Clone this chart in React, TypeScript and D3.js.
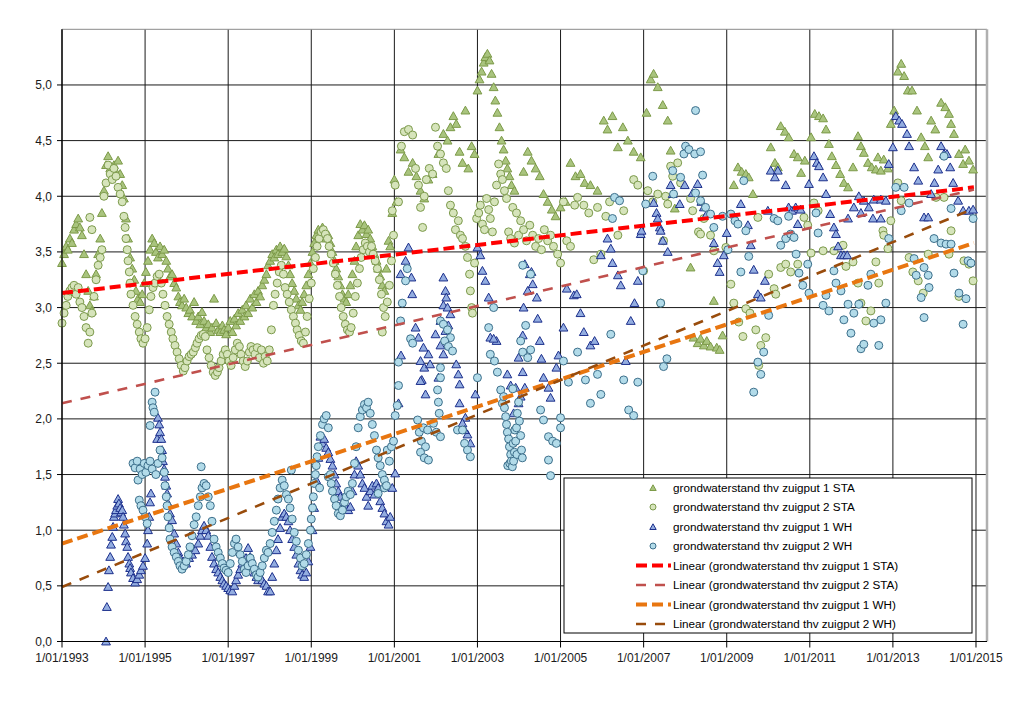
import React from "react";
import * as d3 from "d3";

// ---------- DATA (decimal year, level) ----------
const sta1: [number, number][] = [
  [1993.00,3.40],[1993.05,3.48],[1993.10,3.55],[1993.14,3.52],[1993.19,3.62],[1993.24,3.58],[1993.29,3.70],[1993.34,3.75],[1993.39,3.80],[1993.43,3.72],
  [1993.48,3.65],[1993.53,3.48],[1993.58,3.30],[1993.63,3.15],[1993.67,3.02],[1993.72,2.97],[1993.77,3.10],[1993.82,3.30],[1993.87,3.48],[1993.92,3.62],
  [1993.96,3.85],[1994.01,4.05],[1994.06,4.28],[1994.11,4.36],[1994.16,4.25],[1994.21,4.18],[1994.25,4.28],[1994.30,4.22],[1994.35,4.32],[1994.40,4.20],
  [1994.45,4.10],[1994.49,3.98],[1994.54,3.80],[1994.59,3.62],[1994.64,3.45],[1994.69,3.35],[1994.74,3.25],[1994.78,3.15],[1994.83,3.08],[1994.88,3.05],
  [1994.93,3.12],[1994.98,3.22],[1995.02,3.32],[1995.07,3.42],[1995.12,3.52],[1995.17,3.62],[1995.22,3.58],[1995.26,3.50],[1995.31,3.45],[1995.36,3.55],
  [1995.41,3.48],[1995.46,3.52],[1995.51,3.42],[1995.55,3.35],[1995.60,3.28],[1995.65,3.30],[1995.70,3.22],[1995.75,3.18],[1995.80,3.10],[1995.84,3.05],
  [1995.89,3.02],[1995.94,3.08],[1995.99,3.00],[1996.04,2.95],[1996.08,2.98],[1996.13,2.92],[1996.18,3.05],[1996.23,2.88],[1996.28,2.92],[1996.33,2.85],
  [1996.37,2.96],[1996.42,2.88],[1996.47,2.82],[1996.52,2.85],[1996.57,2.78],[1996.61,2.82],[1996.66,3.08],[1996.71,2.86],[1996.76,2.80],[1996.81,2.78],
  [1996.86,2.84],[1996.90,2.80],[1996.95,2.76],[1997.00,2.82],[1997.05,2.88],[1997.10,2.78],[1997.15,2.90],[1997.19,2.84],[1997.24,2.95],[1997.29,2.88],
  [1997.34,2.98],[1997.39,2.92],[1997.43,3.02],[1997.48,2.95],[1997.53,3.08],[1997.58,3.00],[1997.63,3.12],[1997.68,3.05],[1997.72,3.15],[1997.77,3.10],
  [1997.82,3.20],[1997.87,3.25],[1997.92,3.30],[1997.96,3.38],[1998.01,3.42],[1998.06,3.48],[1998.11,3.45],[1998.16,3.52],[1998.20,3.48],[1998.25,3.55],
  [1998.30,3.50],[1998.35,3.53],[1998.40,3.46],[1998.45,3.38],[1998.49,3.30],[1998.54,3.22],[1998.59,3.15],[1998.64,3.08],[1998.69,3.02],[1998.74,2.98],
  [1998.78,3.05],[1998.83,3.12],[1998.88,3.20],[1998.93,3.30],[1998.98,3.40],[1999.03,3.50],[1999.07,3.58],[1999.12,3.65],[1999.17,3.70],[1999.22,3.66],
  [1999.27,3.72],[1999.31,3.68],[1999.36,3.62],[1999.41,3.65],[1999.46,3.58],[1999.51,3.50],[1999.56,3.42],[1999.60,3.35],[1999.65,3.28],[1999.70,3.20],
  [1999.75,3.12],[1999.80,3.08],[1999.84,3.05],[1999.89,3.12],[1999.94,3.20],[1999.99,3.30],[2000.04,3.42],[2000.08,3.55],[2000.13,3.65],[2000.18,3.75],
  [2000.23,3.70],[2000.28,3.74],[2000.33,3.66],[2000.37,3.70],[2000.42,3.62],[2000.47,3.55],[2000.52,3.48],[2000.57,3.42],[2000.61,3.35],[2000.66,3.28],
  [2000.71,3.20],[2000.76,3.15],[2000.81,3.35],[2000.86,3.60],[2000.90,3.55],[2000.95,3.85],
  [2001.00,4.15],[2001.05,3.95],[2001.15,4.42],[2001.24,4.35],[2001.34,4.22],[2001.44,4.30],[2001.53,4.18],[2001.63,4.05],[2001.72,3.98],[2001.82,4.15],
  [2001.92,4.20],[2002.06,4.38],[2002.18,4.56],[2002.28,4.50],[2002.35,4.62],[2002.42,4.72],[2002.49,4.65],[2002.57,4.40],[2002.64,4.30],[2002.71,4.77],
  [2002.78,4.25],[2002.86,4.45],[2002.93,4.38],[2003.00,4.95],[2003.05,5.05],[2003.10,5.12],[2003.15,5.20],[2003.19,5.25],[2003.24,5.28],[2003.29,5.22],
  [2003.34,5.10],[2003.39,4.98],[2003.43,4.86],[2003.48,4.75],[2003.53,4.62],[2003.58,4.50],[2003.63,4.42],[2003.68,4.32],[2003.72,4.25],[2003.77,4.18],
  [2003.82,4.10],[2003.89,4.05],[2004.11,4.22],[2004.21,4.40],[2004.30,4.32],[2004.40,4.25],[2004.50,4.18],[2004.59,4.02],[2004.69,3.95],[2004.79,3.88],
  [2004.88,3.82],[2005.00,3.90],[2005.12,3.95],[2005.24,4.30],[2005.36,4.18],[2005.48,4.20],[2005.58,4.12],[2005.72,4.10],[2005.89,4.05],[2006.04,4.68],
  [2006.13,4.60],[2006.25,4.72],[2006.38,4.44],[2006.50,4.62],[2006.62,4.50],[2006.76,4.40],[2006.93,4.35],[2007.07,4.75],[2007.17,5.05],[2007.24,5.10],
  [2007.34,4.98],[2007.46,4.82],[2007.58,4.68],[2007.65,4.41],[2007.75,3.89],[2008.13,3.36],[2008.20,2.73],[2008.30,2.68],[2008.37,2.72],[2008.45,2.66],
  [2008.52,2.70],[2008.61,2.65],[2008.69,3.06],[2008.76,2.64],[2008.83,2.62],[2008.90,2.75],[2009.17,4.10],[2009.27,4.26],[2009.36,4.22],[2009.46,4.20],
  [2009.53,4.17],[2009.63,4.02],[2010.06,4.44],[2010.16,4.30],[2010.23,4.26],[2010.30,4.63],[2010.40,4.58],[2010.49,4.53],[2010.62,4.38],[2010.71,4.35],
  [2010.79,4.21],[2010.88,4.32],[2011.03,4.53],[2011.12,4.74],[2011.22,4.72],[2011.32,4.70],[2011.39,4.60],[2011.46,4.47],[2011.53,4.36],[2011.63,4.28],
  [2011.73,4.20],[2011.82,4.12],[2011.92,4.08],[2012.04,4.26],[2012.16,4.54],[2012.23,4.45],[2012.30,4.39],[2012.40,4.30],[2012.49,4.26],[2012.59,4.24],
  [2012.64,4.35],[2012.71,4.23],[2012.78,4.33],[2012.88,4.25],[2012.95,4.65],[2013.03,4.77],[2013.12,5.12],[2013.20,5.19],[2013.27,5.08],[2013.36,4.95],
  [2013.46,4.95],[2013.58,4.77],[2013.68,4.53],[2013.77,4.45],[2013.85,4.35],[2013.92,4.68],[2014.02,4.60],[2014.16,4.84],[2014.26,4.80],[2014.35,4.74],
  [2014.40,4.65],[2014.47,4.56],[2014.59,4.38],[2014.69,4.29],[2014.74,4.42],[2014.83,4.32],[2014.93,4.24]
];

const sta2: [number, number][] = [
  [1993.00,2.86],[1993.05,2.95],[1993.10,3.02],[1993.14,3.10],[1993.19,3.15],[1993.24,3.18],[1993.29,3.20],[1993.34,3.12],[1993.39,3.18],[1993.43,3.05],
  [1993.48,3.00],[1993.53,2.92],[1993.58,2.82],[1993.63,2.68],[1993.67,2.78],[1993.67,3.81],[1993.72,3.70],[1993.72,2.95],[1993.77,3.10],[1993.82,3.25],
  [1993.87,3.38],[1993.92,3.45],[1993.96,3.52],[1994.01,4.00],[1994.06,4.12],[1994.11,4.28],[1994.16,4.20],[1994.21,4.15],[1994.25,4.25],[1994.30,4.18],
  [1994.35,4.08],[1994.40,4.02],[1994.45,3.95],[1994.49,3.82],[1994.52,3.72],[1994.54,3.62],[1994.57,3.52],[1994.59,3.42],[1994.62,3.32],[1994.64,3.22],
  [1994.66,3.12],[1994.71,3.02],[1994.76,2.92],[1994.81,2.85],[1994.86,2.78],[1994.90,2.72],[1994.95,2.68],[1995.00,2.72],[1995.05,2.82],[1995.10,2.98],
  [1995.14,3.10],[1995.19,3.18],[1995.24,3.22],[1995.29,3.28],[1995.34,3.30],[1995.39,3.22],[1995.43,3.12],[1995.48,3.02],[1995.53,2.92],[1995.58,2.85],
  [1995.63,2.78],[1995.67,2.72],[1995.72,2.66],[1995.77,2.60],[1995.82,2.54],[1995.87,2.48],[1995.92,2.43],[1995.96,2.46],[1996.01,2.52],[1996.06,2.56],
  [1996.11,2.58],[1996.16,2.60],[1996.21,2.64],[1996.25,2.68],[1996.30,2.72],[1996.35,2.75],[1996.40,2.76],[1996.45,2.74],[1996.49,2.62],[1996.54,2.55],
  [1996.59,2.48],[1996.64,2.42],[1996.69,2.39],[1996.74,2.42],[1996.78,2.46],[1996.83,2.52],[1996.88,2.58],[1996.93,2.62],[1996.98,2.58],[1997.02,2.52],
  [1997.07,2.48],[1997.12,2.55],[1997.17,2.62],[1997.22,2.68],[1997.27,2.65],[1997.31,2.58],[1997.36,2.52],[1997.41,2.47],[1997.46,2.52],[1997.51,2.60],
  [1997.55,2.65],[1997.60,2.62],[1997.65,2.58],[1997.70,2.64],[1997.75,2.55],[1997.80,2.62],[1997.85,2.50],[1997.89,2.56],[1997.94,2.52],[1997.99,2.62],
  [1998.04,2.80],[1998.09,3.02],[1998.13,3.12],[1998.18,3.22],[1998.23,3.32],[1998.28,3.38],[1998.33,3.30],[1998.37,3.18],[1998.42,3.12],[1998.47,3.05],
  [1998.52,2.98],[1998.57,2.92],[1998.62,2.86],[1998.66,2.80],[1998.71,2.75],[1998.76,2.70],[1998.81,2.68],[1998.86,2.78],[1998.90,2.92],[1998.95,3.08],
  [1999.00,3.22],[1999.05,3.35],[1999.10,3.45],[1999.14,3.55],[1999.19,3.62],[1999.24,3.68],[1999.29,3.70],[1999.34,3.66],[1999.39,3.62],[1999.43,3.55],
  [1999.48,3.48],[1999.53,3.40],[1999.58,3.30],[1999.63,3.20],[1999.68,3.10],[1999.72,3.00],[1999.77,2.92],[1999.82,2.85],[1999.87,2.80],[1999.92,2.78],
  [1999.96,2.82],[2000.01,2.95],[2000.06,3.10],[2000.11,3.22],[2000.16,3.35],[2000.20,3.45],[2000.25,3.52],[2000.30,3.58],[2000.35,3.55],[2000.40,3.50],
  [2000.45,3.55],[2000.49,3.48],[2000.54,3.42],[2000.59,3.35],[2000.64,3.25],[2000.69,3.12],[2000.71,2.78],[2000.74,3.00],[2000.78,2.92],[2000.83,3.05],
  [2000.88,3.20],[2000.93,3.42],[2000.95,3.87],[2000.98,3.65],
  [2001.02,4.10],[2001.10,3.95],[2001.17,4.45],[2001.24,4.58],[2001.34,4.60],[2001.44,4.55],[2001.51,4.25],[2001.58,4.10],[2001.63,3.90],[2001.68,3.72],
  [2001.72,4.00],[2001.77,4.15],[2001.84,4.25],[2001.92,4.20],[2001.99,4.62],[2002.04,4.45],[2002.11,4.38],[2002.18,4.30],[2002.25,4.25],[2002.30,4.05],
  [2002.35,3.92],[2002.42,3.85],[2002.47,3.70],[2002.54,3.78],[2002.59,3.65],[2002.64,3.62],[2002.71,3.55],[2002.76,3.45],[2002.81,3.30],[2002.83,3.15],
  [2002.86,3.00],[2002.88,2.95],[2002.93,3.40],[2002.98,3.80],[2003.03,3.85],[2003.07,3.92],[2003.12,3.75],[2003.17,3.70],[2003.22,3.98],[2003.27,3.88],
  [2003.31,3.80],[2003.36,3.68],[2003.41,3.95],[2003.46,4.10],[2003.51,4.29],[2003.56,4.20],[2003.60,4.15],[2003.65,4.05],[2003.70,3.98],[2003.75,3.68],
  [2003.80,3.62],[2003.85,3.90],[2003.89,3.58],[2003.94,3.85],[2003.99,3.65],[2004.04,3.78],[2004.11,3.70],[2004.18,3.60],[2004.26,3.74],[2004.33,3.65],
  [2004.40,3.55],[2004.47,3.62],[2004.54,3.52],[2004.61,3.70],[2004.69,3.60],[2004.76,3.65],[2004.83,3.55],[2004.93,3.48],[2005.00,3.40],[2005.07,3.95],
  [2005.15,3.60],[2005.24,3.55],[2005.34,3.92],[2005.41,3.99],[2005.56,3.92],[2005.68,3.85],[2005.80,3.43],[2005.89,3.90],[2005.97,3.48],[2006.09,3.82],
  [2006.18,3.95],[2006.38,3.65],[2006.52,3.87],[2006.76,4.15],[2006.86,4.10],[2007.00,3.33],[2007.10,4.05],[2007.22,3.95],[2007.34,4.02],[2007.41,3.04],
  [2007.48,3.60],[2007.53,4.00],[2007.58,3.93],[2007.65,4.27],[2007.70,4.18],[2007.82,4.30],[2007.89,4.12],[2008.13,3.98],[2008.18,3.87],[2008.32,3.68],
  [2008.37,3.66],[2008.45,3.80],[2008.61,3.65],[2008.69,3.51],[2008.98,3.54],[2009.10,3.21],[2009.17,3.04],[2009.29,2.87],[2009.39,2.74],[2009.46,2.99],
  [2009.56,2.95],[2009.70,2.80],[2009.75,3.81],[2009.77,2.48],[2009.82,2.66],[2009.94,2.73],[2010.01,3.30],[2010.14,3.17],[2010.18,3.12],[2010.30,3.36],
  [2010.42,3.39],[2010.54,3.32],[2010.71,3.39],[2010.86,3.81],[2010.95,3.74],[2011.03,3.49],[2011.10,3.94],[2011.20,3.87],[2011.32,3.51],[2011.58,3.51],
  [2011.80,3.56],[2011.87,3.37],[2012.04,3.41],[2012.16,3.22],[2012.23,3.04],[2012.35,2.88],[2012.47,2.97],[2012.59,3.41],[2012.66,3.22],[2012.76,3.69],
  [2012.78,3.65],[2012.88,3.53],[2012.95,3.78],[2013.12,4.12],[2013.20,3.96],[2013.39,3.45],[2013.48,3.32],[2013.61,3.24],[2013.73,3.13],[2013.85,3.48],
  [2014.04,3.99],[2014.23,3.99],[2014.35,3.48],[2014.40,3.69],[2014.59,3.10],[2014.71,3.42],[2014.83,3.39],[2014.93,3.24]
];

const wh1: [number, number][] = [
  [1994.06,0.00],[1994.08,0.31],[1994.11,0.49],[1994.13,0.64],[1994.16,0.76],[1994.18,0.87],[1994.21,0.94],[1994.23,1.03],[1994.25,1.12],[1994.28,1.15],
  [1994.30,1.18],[1994.33,1.22],[1994.35,1.28],[1994.37,1.24],[1994.40,1.20],[1994.42,1.16],[1994.45,1.18],[1994.47,1.12],[1994.49,1.05],[1994.52,0.97],
  [1994.54,0.90],[1994.57,0.85],[1994.59,0.76],[1994.62,0.70],[1994.64,0.66],[1994.66,0.62],[1994.71,0.57],[1994.76,0.53],[1994.81,0.56],[1994.86,0.60],
  [1994.90,0.64],[1994.95,0.68],[1995.00,0.75],[1995.05,0.88],[1995.07,1.00],[1995.10,1.12],[1995.12,1.25],[1995.14,1.33],[1995.29,1.82],[1995.31,2.01],
  [1995.34,1.95],[1995.36,1.88],[1995.39,1.82],[1995.41,1.72],[1995.43,1.62],[1995.46,1.55],[1995.48,1.48],[1995.51,1.40],[1995.53,1.33],[1995.55,1.24],
  [1995.60,1.15],[1995.65,1.09],[1995.70,0.97],[1995.75,0.88],[1995.80,0.80],[1995.84,0.75],[1995.92,0.72],[1995.99,0.70],[1996.06,0.75],[1996.13,0.78],
  [1996.21,0.82],[1996.28,0.88],[1996.33,0.95],[1996.37,1.00],[1996.42,1.04],[1996.47,1.00],[1996.52,0.95],[1996.57,0.85],[1996.61,0.76],[1996.66,0.70],
  [1996.71,0.65],[1996.76,0.62],[1996.81,0.58],[1996.86,0.55],[1996.90,0.52],[1996.95,0.50],[1997.00,0.48],[1997.05,0.46],[1997.10,0.45],[1997.15,0.50],
  [1997.19,0.55],[1997.24,0.60],[1997.29,0.65],[1997.34,0.70],[1997.39,0.68],[1997.43,0.75],[1997.48,0.84],[1997.53,0.76],[1997.58,0.68],[1997.63,0.62],
  [1997.68,0.58],[1997.72,0.55],[1997.77,0.58],[1997.82,0.55],[1997.87,0.52],[1997.92,0.50],[1997.96,0.45],[1998.01,0.45],[1998.06,0.58],[1998.11,0.70],
  [1998.16,0.82],[1998.20,0.92],[1998.25,1.02],[1998.30,1.12],[1998.35,1.15],[1998.40,1.12],[1998.45,1.08],[1998.49,1.00],[1998.54,0.92],[1998.59,0.85],
  [1998.64,0.78],[1998.69,0.70],[1998.74,0.64],[1998.78,0.60],[1998.83,0.58],[1998.88,0.62],[1998.93,0.72],[1998.98,0.85],[1999.03,1.00],[1999.07,1.20],
  [1999.12,1.45],[1999.17,1.65],[1999.22,1.84],[1999.27,1.78],[1999.31,1.82],[1999.36,1.74],[1999.41,1.70],[1999.46,1.64],[1999.51,1.58],[1999.56,1.50],
  [1999.60,1.42],[1999.65,1.35],[1999.70,1.30],[1999.75,1.25],[1999.80,1.22],[1999.84,1.20],[1999.89,1.18],[1999.94,1.21],[1999.99,1.35],[2000.04,1.50],
  [2000.08,1.62],[2000.13,1.58],[2000.18,1.50],[2000.23,1.42],[2000.28,1.38],[2000.33,1.30],[2000.37,1.22],[2000.42,1.35],[2000.47,1.40],[2000.52,1.32],
  [2000.57,1.42],[2000.61,1.38],[2000.66,1.26],[2000.71,1.20],[2000.76,1.15],[2000.81,1.08],[2000.86,1.05],[2000.90,1.12],[2000.95,1.38],[2001.02,1.51],
  [2001.10,2.14],[2001.15,3.30],[2001.16,2.57],[2001.27,3.42],[2001.34,3.54],[2001.41,3.27],[2001.43,3.12],[2001.51,2.82],[2001.58,2.73],[2001.63,2.52],
  [2001.72,2.46],[2001.70,2.64],[2001.82,2.58],[2001.66,2.35],[2001.75,2.22],[2001.63,2.34],[2001.86,2.49],[2002.06,2.37],[2001.99,2.76],[2002.11,2.66],
  [2002.18,2.58],[2002.18,3.27],[2002.23,3.15],[2002.25,3.09],[2002.18,3.02],[2002.28,3.00],[2002.35,2.94],[2002.11,2.88],[2002.23,2.79],[2002.30,2.84],
  [2002.49,2.49],[2002.57,2.31],[2002.54,2.40],[2002.95,2.22],[2002.57,2.14],[2002.71,2.01],[2002.64,1.96],[2002.76,1.86],[2002.83,1.78],[2002.69,1.90],
  [2003.00,3.54],[2003.07,3.47],[2003.12,3.33],[2003.19,3.24],[2003.27,3.09],[2003.31,2.73],[2003.46,2.70],[2003.39,2.72],[2003.72,2.40],[2003.80,2.30],
  [2003.87,2.05],[2003.92,2.28],[2003.99,2.14],[2003.99,2.55],[2004.04,2.20],[2004.09,2.42],[2004.14,2.28],[2004.09,2.75],[2004.11,3.00],[2004.14,3.39],
  [2004.21,3.15],[2004.26,3.30],[2004.30,3.32],[2004.33,3.21],[2004.43,3.09],[2004.45,2.90],[2004.50,2.70],[2004.54,2.54],[2004.59,2.37],[2004.71,2.28],
  [2004.76,2.19],[2004.90,2.46],[2004.95,2.57],[2005.07,2.82],[2005.15,3.17],[2005.32,3.11],[2005.39,3.12],[2005.48,2.95],[2005.56,2.78],[2005.72,2.66],
  [2005.82,2.70],[2005.97,3.47],[2006.13,3.62],[2006.21,3.53],[2006.25,3.40],[2006.38,3.29],[2006.45,3.20],[2006.57,2.52],[2006.69,2.88],[2006.78,3.04],
  [2006.86,3.24],[2006.93,3.66],[2006.95,3.69],[2007.24,3.94],[2007.31,3.85],[2007.34,3.80],[2007.39,3.72],[2007.41,3.69],[2007.46,3.60],[2007.58,3.50],
  [2007.65,4.10],[2007.70,4.02],[2007.87,3.93],[2007.99,4.10],[2008.18,4.03],[2008.30,4.11],[2008.39,3.95],[2008.45,3.90],[2008.52,3.84],[2008.69,3.58],
  [2008.78,3.40],[2008.83,3.32],[2008.93,3.47],[2009.00,3.67],[2009.34,3.93],[2009.51,3.74],[2009.58,3.56],[2009.65,3.34],[2009.75,3.12],[2009.82,3.09],
  [2009.92,3.24],[2009.99,3.87],[2010.06,4.23],[2010.23,4.23],[2010.16,4.17],[2010.42,4.10],[2010.49,3.90],[2010.57,3.87],[2010.66,3.90],[2010.71,3.75],
  [2010.78,3.88],[2010.98,4.11],[2011.10,4.36],[2011.17,4.30],[2011.22,4.27],[2011.32,4.17],[2011.39,4.02],[2011.49,3.84],[2011.58,3.72],[2011.63,3.66],
  [2011.68,3.55],[2011.75,3.47],[2011.82,3.47],[2011.90,3.47],[2011.92,3.80],[2012.06,3.90],[2012.23,3.85],[2012.18,4.00],[2012.30,3.96],[2012.42,3.90],
  [2012.52,3.80],[2012.54,3.97],[2012.71,3.80],[2012.71,3.97],[2012.83,3.96],[2012.90,4.29],[2013.00,4.44],[2013.07,4.72],[2013.15,4.68],[2013.22,4.65],
  [2013.34,4.56],[2013.39,4.45],[2013.51,4.26],[2013.61,4.14],[2013.75,3.81],[2013.85,3.81],[2013.92,4.02],[2014.00,4.12],[2014.09,4.24],[2014.16,4.45],
  [2014.23,4.38],[2014.30,4.38],[2014.38,4.26],[2014.45,4.12],[2014.57,3.96],[2014.69,3.87],[2014.83,3.87],[2014.93,3.88]
];

const wh2: [number, number][] = [
  [1994.71,1.60],[1994.76,1.56],[1994.81,1.62],[1994.83,1.45],[1994.86,1.27],[1994.88,1.55],[1994.90,1.22],[1994.93,1.50],[1994.95,1.18],[1994.98,1.60],
  [1995.00,1.12],[1995.02,1.52],[1995.05,1.06],[1995.07,1.58],[1995.12,1.94],[1995.12,1.62],[1995.17,2.15],[1995.17,1.55],[1995.19,2.10],[1995.22,2.06],
  [1995.24,2.24],[1995.26,1.50],[1995.31,1.60],[1995.36,1.72],[1995.41,1.65],[1995.46,1.52],[1995.48,1.40],[1995.51,1.30],[1995.53,1.22],[1995.55,1.12],
  [1995.58,1.02],[1995.60,0.92],[1995.65,0.85],[1995.70,0.80],[1995.75,0.76],[1995.80,0.72],[1995.84,0.68],[1995.89,0.65],[1995.94,0.68],[1995.99,0.72],
  [1996.04,0.78],[1996.08,0.85],[1996.13,0.95],[1996.18,1.05],[1996.23,1.12],[1996.28,1.22],[1996.33,1.30],[1996.35,1.57],[1996.37,1.38],[1996.42,1.42],
  [1996.47,1.40],[1996.52,1.30],[1996.57,1.22],[1996.61,1.08],[1996.66,0.92],[1996.71,0.85],[1996.76,0.80],[1996.81,0.75],[1996.86,0.70],[1996.90,0.66],
  [1996.95,0.64],[1997.00,0.62],[1997.05,0.70],[1997.10,0.80],[1997.15,0.88],[1997.19,0.92],[1997.24,0.85],[1997.29,0.78],[1997.34,0.72],[1997.39,0.65],
  [1997.43,0.62],[1997.48,0.68],[1997.53,0.75],[1997.58,0.70],[1997.63,0.65],[1997.68,0.60],[1997.72,0.58],[1997.77,0.62],[1997.82,0.68],[1997.87,0.75],
  [1997.92,0.82],[1997.96,0.80],[1998.01,0.88],[1998.06,0.98],[1998.11,1.08],[1998.16,1.18],[1998.20,1.28],[1998.25,1.38],[1998.30,1.45],[1998.35,1.40],
  [1998.40,1.32],[1998.45,1.28],[1998.49,1.20],[1998.52,1.54],[1998.54,1.10],[1998.59,0.98],[1998.64,0.90],[1998.69,0.82],[1998.74,0.75],[1998.78,0.68],
  [1998.83,0.70],[1998.88,0.78],[1998.93,0.88],[1998.98,1.00],[1999.00,1.10],[1999.03,1.20],[1999.05,1.30],[1999.07,1.42],[1999.10,1.50],[1999.12,1.58],
  [1999.14,1.66],[1999.17,1.75],[1999.20,1.38],[1999.22,1.85],[1999.27,1.95],[1999.31,2.00],[1999.36,2.03],[1999.41,1.92],[1999.41,1.48],[1999.46,1.50],
  [1999.48,1.42],[1999.51,1.35],[1999.56,1.28],[1999.60,1.22],[1999.65,1.15],[1999.70,1.13],[1999.75,1.18],[1999.80,1.25],[1999.84,1.30],[1999.89,1.35],
  [1999.94,1.32],[1999.99,1.42],[2000.04,1.60],[2000.08,1.75],[2000.13,1.92],[2000.18,2.02],[2000.23,2.08],[2000.28,2.13],[2000.33,2.10],[2000.37,2.15],
  [2000.42,2.05],[2000.47,1.95],[2000.52,1.85],[2000.57,1.72],[2000.61,1.65],[2000.61,1.33],[2000.66,1.58],[2000.71,1.50],[2000.76,1.45],[2000.76,1.38],
  [2000.81,1.40],[2000.83,1.72],[2000.88,1.62],[2000.93,1.75],[2000.98,1.80],
  [2001.02,2.03],[2001.07,2.12],[2001.10,2.51],[2001.10,2.30],[2001.15,2.88],[2001.19,3.04],[2001.27,3.24],[2001.31,3.35],[2001.39,2.72],[2001.44,2.68],
  [2001.56,1.99],[2001.60,1.88],[2001.65,1.80],[2001.70,1.92],[2001.75,1.75],[2001.80,1.90],[2001.63,1.70],[2001.72,1.65],[2001.82,1.63],[2001.94,1.96],
  [2002.01,1.88],[2002.11,1.84],[2002.11,2.88],[2002.18,2.85],[2002.28,2.80],[2002.35,2.73],[2002.21,2.70],[2002.30,2.65],[2002.40,2.61],[2002.11,2.46],
  [2002.11,2.37],[2002.04,2.26],[2002.06,2.15],[2002.08,2.05],[2002.52,1.90],[2002.64,1.90],[2002.69,1.78],[2002.76,1.72],[2002.83,1.66],[2003.00,2.37],
  [2003.27,2.82],[2003.31,2.58],[2003.41,2.52],[2003.48,2.42],[2003.39,3.00],[2003.56,2.26],[2003.60,2.14],[2003.63,2.20],[2003.65,2.10],[2003.68,2.02],
  [2003.70,1.95],[2003.72,1.88],[2003.73,1.58],[2003.75,1.82],[2003.77,1.75],[2003.78,1.60],[2003.80,1.68],[2003.82,1.62],[2003.84,1.57],[2003.85,2.27],
  [2003.86,1.78],[2003.87,1.62],[2003.89,1.70],[2003.90,1.90],[2003.92,1.80],[2003.94,1.92],[2003.95,1.68],[2003.96,2.05],[2003.99,2.15],[2004.01,1.98],
  [2004.04,1.85],[2004.06,1.72],[2004.08,1.65],[2004.04,2.70],[2004.16,2.84],[2004.09,2.60],[2004.21,2.55],[2004.28,2.62],[2004.09,3.38],[2004.28,3.30],
  [2004.52,2.08],[2004.59,1.99],[2004.71,1.84],[2004.81,1.80],[2004.90,1.78],[2005.00,2.01],[2005.00,1.92],[2004.71,1.63],[2004.76,1.49],[2005.07,2.52],
  [2005.19,2.33],[2005.41,2.60],[2005.60,2.35],[2005.72,2.14],[2005.89,2.40],[2005.97,2.22],[2006.21,2.76],[2006.52,2.35],[2006.64,2.08],[2006.76,2.03],
  [2006.86,2.33],[2006.98,3.33],[2006.25,3.80],[2006.30,3.99],[2006.42,3.96],[2007.05,3.93],[2007.22,4.18],[2007.41,3.04],[2007.48,2.47],[2007.56,2.54],
  [2007.70,4.23],[2007.89,4.17],[2007.72,4.02],[2007.97,4.38],[2008.01,4.45],[2008.09,4.42],[2008.23,4.38],[2008.37,4.40],[2008.25,4.77],[2008.42,4.19],
  [2008.25,4.03],[2008.37,3.96],[2008.49,3.90],[2008.61,3.84],[2008.69,3.72],[2008.90,3.82],[2009.10,3.84],[2009.20,3.78],[2009.27,3.75],[2009.41,4.14],
  [2009.46,3.69],[2009.03,3.52],[2009.34,3.32],[2009.53,3.46],[2009.65,2.24],[2009.75,2.51],[2009.82,2.40],[2009.89,2.60],[2010.01,2.93],[2010.14,3.80],
  [2010.23,3.78],[2010.30,3.56],[2010.42,3.62],[2010.49,3.82],[2010.54,3.66],[2010.62,3.63],[2010.67,3.48],[2010.74,3.31],[2010.83,3.20],[2010.95,3.39],
  [2010.98,3.13],[2011.15,3.85],[2011.20,3.67],[2011.32,3.02],[2011.39,3.11],[2011.46,2.97],[2011.58,3.33],[2011.63,3.22],[2011.75,3.15],[2011.82,2.89],
  [2011.92,3.03],[2011.99,2.77],[2012.06,2.95],[2012.18,3.03],[2012.23,2.63],[2012.30,2.67],[2012.40,3.20],[2012.47,3.30],[2012.54,2.86],[2012.66,2.66],
  [2012.71,2.89],[2012.83,3.04],[2012.90,3.62],[2013.07,4.08],[2013.20,3.87],[2013.27,4.08],[2013.39,3.94],[2013.51,3.44],[2013.56,3.29],[2013.68,3.09],
  [2013.75,2.91],[2013.75,3.36],[2013.85,3.29],[2013.87,3.18],[2013.99,3.62],[2014.16,3.58],[2014.23,4.36],[2014.28,3.57],[2014.40,3.57],[2014.40,3.89],
  [2014.47,3.31],[2014.59,3.13],[2014.69,2.85],[2014.76,3.08],[2014.81,3.42],[2014.88,3.40],[2014.93,3.80]
];

// trend lines: [start, end] as [year, value]
const trend1STA: [number, number][] = [[1993.0, 3.13], [2014.95, 4.08]];
const trend2STA: [number, number][] = [[1993.0, 2.14], [2014.95, 4.06]];
const trend1WH: [number, number][] = [[1993.0, 0.88], [2014.95, 3.58]];
const trend2WH: [number, number][] = [[1993.0, 0.49], [2014.95, 3.89]];

const xTickYears = [1993, 1995, 1997, 1999, 2001, 2003, 2005, 2007, 2009, 2011, 2013, 2015];
const yTicks = [0, 0.5, 1, 1.5, 2, 2.5, 3, 3.5, 4, 4.5, 5];
const legendLabels = [
  "grondwaterstand thv zuigput 1 STA",
  "grondwaterstand thv zuigput 2 STA",
  "grondwaterstand thv zuigput 1 WH",
  "grondwaterstand thv zuigput 2 WH",
  "Linear (grondwaterstand thv zuigput 1 STA)",
  "Linear (grondwaterstand thv zuigput 2 STA)",
  "Linear (grondwaterstand thv zuigput 1 WH)",
  "Linear (grondwaterstand thv zuigput 2 WH)",
];

// ---------- STYLE ----------
const FONT = "'Liberation Sans', Arial, sans-serif";
const triGreen = { fill: "#a9c47e", stroke: "#7c9a48" };
const circGreen = { fill: "#d6e4bb", stroke: "#7c9a4c" };
const triBlue = { fill: "#93ade0", stroke: "#1c2f8c" };
const circBlue = { fill: "#b2dbe9", stroke: "#3d6f8b" };
const trendStyles = [
  { color: "#ff0000", width: 4, dash: "11 5" },
  { color: "#c0504d", width: 2.6, dash: "10 9" },
  { color: "#e87610", width: 4, dash: "11 5" },
  { color: "#994c0c", width: 2.6, dash: "10 9" },
];

const L = 62, R = 987, T = 29.3, B = 641.5;
const x = d3.scaleLinear().domain([1993, 2015.265]).range([L, R]);
const y = d3.scaleLinear().domain([0, 5.5]).range([B, T]);

const triPath = (s: number) => `M0,${-s}L${s * 1.0},${s * 0.78}L${-s * 1.0},${s * 0.78}Z`;

function Tri({ cx, cy, s, st }: any) {
  return <path d={triPath(s)} transform={`translate(${cx},${cy})`} fill={st.fill} stroke={st.stroke} strokeWidth={1} />;
}

export default function App() {
  const line = d3.line<[number, number]>().x(d => x(d[0])).y(d => y(d[1]));
  const trends = [trend1STA, trend2STA, trend1WH, trend2WH];
  const legX = 564, legY = 478, legW = 408, legH = 155;
  const rowY = (i: number) => 487.5 + i * 19.5;

  return (
    <svg width={1024} height={704} style={{ position: "absolute", left: 0, top: 0, background: "#fff" }} fontFamily={FONT}>
      <rect x={0} y={0} width={1024} height={704} fill="#fff" />
      {yTicks.map(t => (
        <line key={"h" + t} x1={L} x2={R} y1={y(t)} y2={y(t)} stroke="#1a1a1a" strokeWidth={1} />
      ))}
      {xTickYears.map(t => (
        <line key={"v" + t} x1={x(t)} x2={x(t)} y1={T} y2={B} stroke="#1a1a1a" strokeWidth={1} />
      ))}
      <line x1={L} x2={R} y1={T} y2={T} stroke="#8a8a8a" strokeWidth={1} />
      <line x1={R} x2={R} y1={T} y2={B} stroke="#b0b0b0" strokeWidth={2.5} />

      <g>{sta1.map((d, i) => <Tri key={"a" + i} cx={x(d[0])} cy={y(d[1])} s={4.4} st={triGreen} />)}</g>
      <g>{sta2.map((d, i) => <circle key={"b" + i} cx={x(d[0])} cy={y(d[1])} r={4} fill={circGreen.fill} stroke={circGreen.stroke} strokeWidth={1} />)}</g>
      <g>{wh1.map((d, i) => <Tri key={"c" + i} cx={x(d[0])} cy={y(d[1])} s={4.4} st={triBlue} />)}</g>
      <g>{wh2.map((d, i) => <circle key={"d" + i} cx={x(d[0])} cy={y(d[1])} r={4} fill={circBlue.fill} stroke={circBlue.stroke} strokeWidth={1} />)}</g>

      {trends.map((t, i) => (
        <path key={"t" + i} d={line(t) || ""} fill="none" stroke={trendStyles[i].color} strokeWidth={trendStyles[i].width} strokeDasharray={trendStyles[i].dash} />
      ))}

      <line x1={L} x2={L} y1={T} y2={B} stroke="#000" strokeWidth={1.2} />
      <line x1={L} x2={R} y1={B} y2={B} stroke="#000" strokeWidth={1.2} />
      {yTicks.map(t => (
        <g key={"yt" + t}>
          <line x1={L - 5} x2={L} y1={y(t)} y2={y(t)} stroke="#000" />
          <text x={L - 10} y={y(t) + 4.5} textAnchor="end" fontSize={12} fill="#1a1a1a">{t.toFixed(1).replace(".", ",")}</text>
        </g>
      ))}
      {xTickYears.map(t => (
        <g key={"xt" + t}>
          <line x1={x(t)} x2={x(t)} y1={B} y2={B + 6} stroke="#000" />
          <text x={x(t)} y={B + 20} textAnchor="middle" fontSize={12} fill="#1a1a1a">{`1/01/${t}`}</text>
        </g>
      ))}

      <rect x={legX} y={legY} width={legW} height={legH} fill="#fff" stroke="#000" strokeWidth={1} />
      {legendLabels.map((lab, i) => (
        <text key={"lt" + i} x={673} y={rowY(i) + 4.2} fontSize={11.7} fill="#000">{lab}</text>
      ))}
      <Tri cx={653} cy={rowY(0) + 0.5} s={3.2} st={triGreen} />
      <circle cx={653} cy={rowY(1)} r={3} fill={circGreen.fill} stroke={circGreen.stroke} />
      <Tri cx={653} cy={rowY(2) + 0.5} s={3.2} st={triBlue} />
      <circle cx={653} cy={rowY(3)} r={3} fill={circBlue.fill} stroke={circBlue.stroke} />
      {trendStyles.map((s, i) => (
        <line key={"ll" + i} x1={636} x2={671} y1={rowY(4 + i)} y2={rowY(4 + i)} stroke={s.color} strokeWidth={s.width} strokeDasharray={s.dash} />
      ))}
    </svg>
  );
}
